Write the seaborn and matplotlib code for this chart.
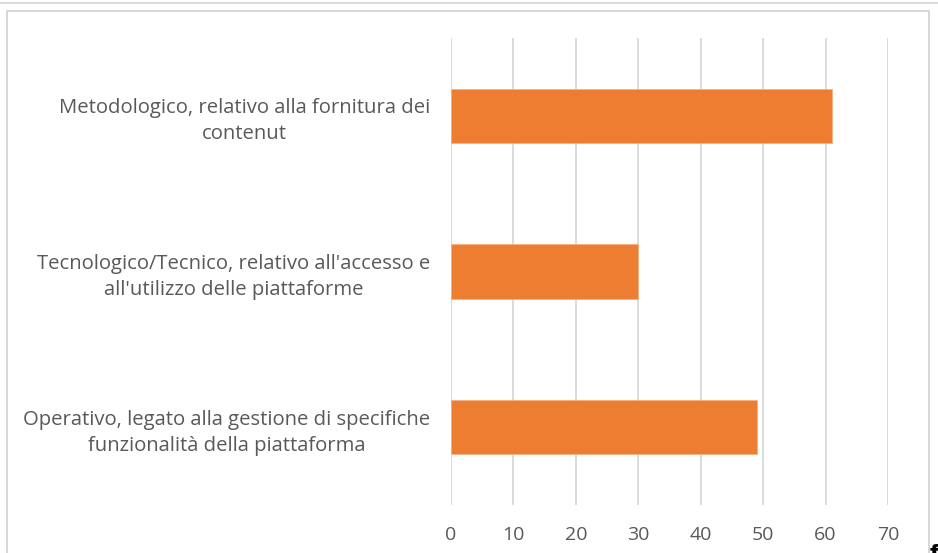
import matplotlib
matplotlib.use("Agg")
import matplotlib.pyplot as plt
import seaborn as sns
import pandas as pd
from matplotlib.patches import Rectangle
from matplotlib.lines import Line2D

categories = [
    "Metodologico, relativo alla fornitura dei\ncontenut",
    "Tecnologico/Tecnico, relativo all'accesso e\nall'utilizzo delle piattaforme",
    "Operativo, legato alla gestione di specifiche\nfunzionalità della piattaforma",
]
values = [61, 30, 49]
x_ticks = [0, 10, 20, 30, 40, 50, 60, 70]

sns.set_theme(style="white")
plt.rcParams["font.family"] = ["Open Sans", "DejaVu Sans"]

df = pd.DataFrame({"categoria": categories, "valore": values})

fig = plt.figure(figsize=(9.38, 5.53), dpi=100)
W, H = 938, 553
ax = fig.add_axes([451 / W, 1 - 505 / H, (888 - 451) / W, (505 - 38) / H])

sns.barplot(data=df, y="categoria", x="valore", orient="h", color="#ED7D31",
            saturation=1, width=0.35, ax=ax, edgecolor="#F4B183", linewidth=0.6,
            zorder=3)

ax.set_xlim(0, 70)
ax.set_xticks(x_ticks)
ax.set_xticklabels([str(t) for t in x_ticks])
ax.set_xlabel("")
ax.set_ylabel("")
ax.grid(axis="x", color="#d9d9d9", linewidth=1.3, zorder=0)
ax.grid(axis="y", visible=False)
for s in ax.spines.values():
    s.set_visible(False)
ax.tick_params(axis="both", length=0, colors="#595959")
ax.tick_params(axis="x", pad=15, labelsize=14)
ax.tick_params(axis="y", pad=15, labelsize=14.6)
for lbl in ax.get_yticklabels():
    lbl.set_multialignment("center")
    lbl.set_linespacing(1.4)

# chart frame and the thin rule above it
fig.add_artist(Rectangle((7 / W, -0.05), (929 - 7) / W, 1.05 - 11 / H,
                         transform=fig.transFigure, fill=False,
                         edgecolor="#d0d0d0", linewidth=1.2))
fig.add_artist(Line2D([0, 1], [1 - 2.5 / H, 1 - 2.5 / H], transform=fig.transFigure,
                      color="#d6d6d6", linewidth=1.2))
fig.text(934 / W, 1 - 544 / H, "f", fontsize=16, fontweight="bold", color="black",
         ha="center", va="top", family="DejaVu Sans")

fig.savefig("out.png", dpi=100, facecolor="white")
